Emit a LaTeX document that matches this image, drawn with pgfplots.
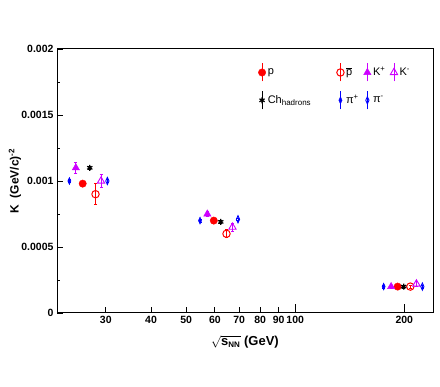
\documentclass[border=0pt]{standalone}
\usepackage{fontspec}
\setmainfont{Liberation Sans}
\usepackage{pgfplots}
\pgfplotsset{compat=1.18}
\definecolor{rred}{RGB}{255,0,0}
\definecolor{rmag}{RGB}{204,0,255}
\definecolor{rblue}{RGB}{0,0,255}
\pgfplotsset{
  legerr/.style={legend image code/.code={\draw[#1,line width=0.8pt] (0pt,-9pt)--(0pt,9pt); \draw[##1] plot coordinates {(0pt,0pt)};}},
  ebar/.style={error bars/error bar style={line width=0.8pt}, error bars/error mark options={rotate=90, mark size=1.5pt, line width=0.8pt}},
}
\begin{document}
\begin{tikzpicture}[x=1pt,y=1pt]
\path[use as bounding box] (-57,-74) rectangle (383,313);
\begin{axis}[
  at={(0,0)}, anchor=south west,
  scale only axis, width=376pt, height=264pt,
  xmode=log, xmin=22, xmax=240, ymin=0, ymax=0.002,
  axis line style={line width=1pt},
  tick align=inside, tick pos=left,
  major tick length=6pt, minor tick length=3pt,
  tick style={line width=0.8pt, black},
  xtick={30,40,50,60,70,80,90}, xticklabels={30,40,50,60,70,80,90},
  extra x ticks={100,200}, extra x tick labels={100,200},
  extra x tick style={major tick length=9pt},
  xminorticks=false,
  ytick={0,0.0005,0.001,0.0015,0.002},
  yticklabels={0,0.0005,0.001,0.0015,0.002},
  minor ytick={0.00025,0.00075,0.00125,0.00175},
  scaled y ticks=false,
  /pgf/number format/assume math mode=true,
  tick label style={font=\fontsize{10.5}{12}\selectfont\bfseries},
  xlabel={\bfseries$\sqrt{\mbox{\bfseries s}_{\mbox{\fontsize{8}{9}\selectfont\bfseries NN}}}$ (GeV)},
  xlabel style={at={(axis description cs:0.5,-0.11)}, anchor=center, inner sep=0pt, font=\fontsize{13}{15}\selectfont},
  ylabel={\bfseries K\ \ (GeV/c)\textsuperscript{-2}},
  ylabel style={at={(axis description cs:-0.112,0.5)}, anchor=center, font=\fontsize{12}{14}\selectfont},
  legend columns=4,
  legend cell align=left,
  legend style={draw=none, fill=none, at={(axis description cs:0.527,0.955)}, anchor=north west,
    font=\fontsize{11}{13}\selectfont, row sep=9pt,
    /tikz/every even column/.append style={column sep=3pt}},
  error bars/y dir=both, error bars/y explicit,
]
% p
\addplot[only marks, color=rred, mark=*, mark size=3.7pt, mark options={fill=rred}, ebar, legerr=rred]
  table[x=x,y=y,y error=e] {
x y e
25.9 0.00098 0.00002
59.6 0.00070 0.00002
191.7 0.00020 0.00001
};
\addlegendentry{p}
% pbar
\addplot[only marks, color=rred, mark=o, mark size=3.7pt, mark options={fill=white, line width=1pt}, ebar, legerr=rred]
  table[x=x,y=y,y error=e] {
x y e
28.1 0.00090 0.00008
64.6 0.00060 0.00003
207.8 0.00020 0.00001
};
\addlegendentry{\makebox[9pt][l]{$\overline{\mbox{p}}$}}
% K+
\addplot[only marks, color=rmag, mark=triangle*, mark size=4.2pt, mark options={fill=rmag}, ebar, legerr=rmag]
  table[x=x,y=y,y error=e] {
x y e
24.8 0.00110 0.00004
57.2 0.00075 0.00002
183.9 0.00020 0.00001
};
\addlegendentry{K\textsuperscript{+}}
% K-
\addplot[only marks, color=rmag, mark=triangle, mark size=4.2pt, mark options={fill=white, line width=0.9pt}, ebar, legerr=rmag]
  table[x=x,y=y,y error=e] {
x y e
29.1 0.00100 0.00005
67.1 0.00065 0.00003
216.0 0.00022 0.00002
};
\addlegendentry{K\textsuperscript{-}}
% charged hadrons
\addplot[only marks, color=black, mark=asterisk, mark size=3pt, mark options={line width=1.2pt}, ebar, legerr=black]
  table[x=x,y=y,y error=e] {
x y e
27.1 0.00110 0.00001
62.3 0.00069 0.00001
199.2 0.00020 0.00001
};
\addlegendentry{\makebox[64pt][l]{Ch\textsubscript{\fontsize{8}{9}\selectfont hadrons}}}
% pi+
\addplot[only marks, color=rblue, mark=diamond*, mark size=3.6pt, mark options={fill=rblue, xscale=0.6}, ebar, legerr=rblue]
  table[x=x,y=y,y error=e] {
x y e
23.8 0.00100 0.00001
54.6 0.00070 0.00001
175.4 0.00020 0.00001
};
\addlegendentry{π\textsuperscript{+}}
% pi-
\addplot[only marks, color=rblue, mark=diamond, mark size=3.6pt, mark options={fill=white, xscale=0.6, line width=0.9pt}, ebar, legerr=rblue]
  table[x=x,y=y,y error=e] {
x y e
30.3 0.00100 0.00001
69.5 0.00071 0.00001
224.3 0.00020 0.00001
};
\addlegendentry{π\textsuperscript{-}}
\end{axis}
\end{tikzpicture}
\end{document}
